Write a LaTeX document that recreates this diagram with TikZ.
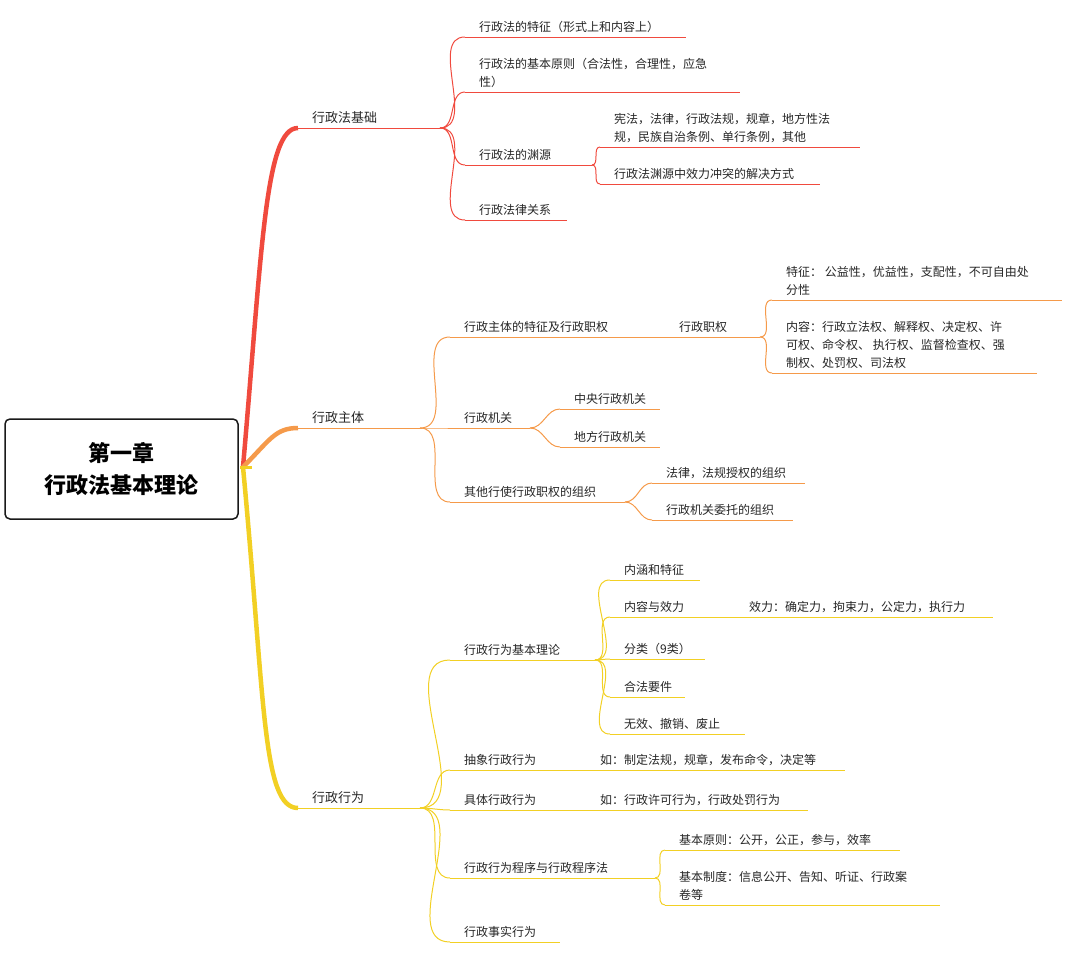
\documentclass[tikz,border=0pt]{standalone}
\usepackage{fontspec}
\setmainfont{Noto Sans CJK SC}
\definecolor{cr}{HTML}{F04A3E}
\definecolor{co}{HTML}{F59A4A}
\definecolor{cy}{HTML}{F2D024}
\tikzset{lbl/.style={anchor=south west,align=left,inner sep=0pt,font=\fontsize{12}{18}\selectfont,text=black!85},
 ul/.style={line width=1pt},
 br/.style={line width=1pt,out=0,in=180}}
\newcommand{\itm}[6]{% name, xs, uy, xe, color, text
 \coordinate (#1-s) at (#2,#3); \coordinate (#1-e) at (#4,#3);
 \draw[ul,#5] (#1-s) -- (#1-e);
 \node[lbl] (#1) at ($(#1-s)+(14,-4)$) {#6};}
\usetikzlibrary{calc}
\begin{document}
\begin{tikzpicture}[x=1pt,y=-1pt]
\useasboundingbox (0,0) rectangle (1072,953);
\node[draw=black!90,line width=1.5pt,rounded corners=5pt,minimum width=233pt,minimum height=100pt,align=center,font=\fontsize{22}{32}\selectfont\bfseries] (root) at (121.5,469) {第一章\\行政法基本理论};
\coordinate (R) at (243,467);
% level 1
\itm{a}{298}{128}{440}{cr}{\fontsize{13}{18}\selectfont 行政法基础}
\itm{b}{298}{428}{420}{co}{\fontsize{13}{18}\selectfont 行政主体}
\itm{c}{298}{808}{420}{cy}{\fontsize{13}{18}\selectfont 行政行为}
\draw[cr,line width=4.5pt] (R) .. controls (262,250) and (265,128) .. (a-s);
\draw[co,line width=4.5pt] (R) .. controls (270,440) and (275,428) .. (b-s);
\draw[cy,line width=4.5pt] (R) .. controls (265,700) and (262,808) .. (c-s);
\draw[line width=3pt,cy] (240,467)--(252,467);
% red
\itm{a1}{465}{37}{686}{cr}{行政法的特征（形式上和内容上）}
\itm{a2}{465}{92}{740}{cr}{行政法的基本原则（合法性，合理性，应急\\性）}
\itm{a3}{465}{165}{592}{cr}{行政法的渊源}
\itm{a4}{465}{220}{567}{cr}{行政法律关系}
\itm{a31}{600}{147}{860}{cr}{宪法，法律，行政法规，规章，地方性法\\规，民族自治条例、单行条例，其他}
\itm{a32}{600}{184}{820}{cr}{行政法渊源中效力冲突的解决方式}
\foreach \n in {a1,a2,a3,a4} \draw[br,cr] (a-e) to (\n-s);
\foreach \n in {a31,a32} \draw[br,cr] (a3-e) to (\n-s);
% orange
\itm{b1}{450}{337}{665}{co}{行政主体的特征及行政职权}
\itm{b11}{665}{337}{760}{co}{行政职权}
\itm{b111}{772}{300}{1062}{co}{特征： 公益性，优益性，支配性，不可自由处\\分性}
\itm{b112}{772}{373}{1037}{co}{ 内容：行政立法权、解释权、决定权、许\\可权、命令权、 执行权、监督检查权、强\\制权、处罚权、司法权}
\itm{b2}{450}{428}{530}{co}{行政机关}
\itm{b21}{560}{409}{660}{co}{中央行政机关}
\itm{b22}{560}{447}{660}{co}{地方行政机关}
\itm{b3}{450}{502}{625}{co}{其他行使行政职权的组织}
\itm{b31}{652}{483}{805}{co}{法律，法规授权的组织}
\itm{b32}{652}{520}{793}{co}{行政机关委托的组织}
\foreach \n in {b1,b2,b3} \draw[br,co] (b-e) to (\n-s);
\foreach \n in {b111,b112} \draw[br,co] (b11-e) to (\n-s);
\foreach \n in {b21,b22} \draw[br,co] (b2-e) to (\n-s);
\foreach \n in {b31,b32} \draw[br,co] (b3-e) to (\n-s);
% yellow
\itm{c1}{450}{660}{595}{cy}{行政行为基本理论}
\itm{c11}{610}{580}{700}{cy}{内涵和特征}
\itm{c12}{610}{617}{735}{cy}{内容与效力}
\itm{c121}{735}{617}{993}{cy}{效力：确定力，拘束力，公定力，执行力}
\itm{c13}{610}{659}{705}{cy}{分类（9类）}
\itm{c14}{610}{697}{685}{cy}{合法要件}
\itm{c15}{610}{734}{745}{cy}{无效、撤销、废止}
\itm{c2}{450}{770}{590}{cy}{抽象行政行为}
\itm{c21}{590}{770}{845}{cy}{\hspace{-4pt}如：制定法规，规章，发布命令，决定等}
\itm{c3}{450}{810}{590}{cy}{具体行政行为}
\itm{c31}{590}{810}{808}{cy}{\hspace{-4pt}如：行政许可行为，行政处罚行为}
\itm{c4}{450}{878}{655}{cy}{行政行为程序与行政程序法}
\itm{c41}{665}{850}{900}{cy}{基本原则：公开，公正，参与，效率}
\itm{c42}{665}{905}{940}{cy}{基本制度：信息公开、告知、听证、行政案\\卷等}
\itm{c5}{450}{942}{560}{cy}{行政事实行为}
\foreach \n in {c1,c2,c3,c4,c5} \draw[br,cy] (c-e) to (\n-s);
\foreach \n in {c11,c12,c13,c14,c15} \draw[br,cy] (c1-e) to (\n-s);
\foreach \n in {c41,c42} \draw[br,cy] (c4-e) to (\n-s);
\end{tikzpicture}
\end{document}
